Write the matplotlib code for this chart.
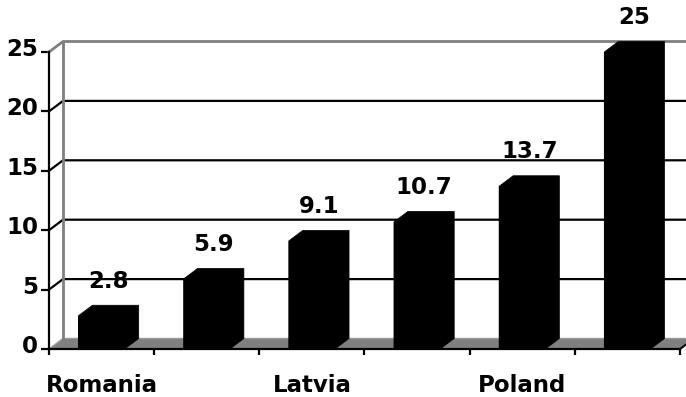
import matplotlib
matplotlib.use("Agg")
import matplotlib.pyplot as plt
import numpy as np
from matplotlib.patches import Polygon
from matplotlib.transforms import IdentityTransform, ScaledTranslation

# Chart data
categories = ["Romania", "", "Latvia", "", "Poland", ""]
values = [2.8, 5.9, 9.1, 10.7, 13.7, 25]
y_ticks = [0, 5, 10, 15, 20, 25]

# Pseudo-3D settings (receding offset in pixels)
DEPTH = (14.0, 10.5)
BAR_WIDTH = 0.44
WALL_GRAY = "#808080"
FONT = dict(fontsize=16.5, fontweight="bold", color="black")

fig = plt.figure(figsize=(6.86, 3.97), dpi=100)
ax = fig.add_axes([49 / 686, 48 / 397, 631 / 686, 297 / 397])
ax.set_xlim(-0.5, len(values) - 0.5)
ax.set_ylim(y_ticks[0], y_ticks[-1])

for side in ("top", "right"):
    ax.spines[side].set_visible(False)
for side in ("left", "bottom"):
    ax.spines[side].set_linewidth(1.6)
    ax.spines[side].set_zorder(6)

px = IdentityTransform()


def pt(x, y, back=False):
    """Display position of a data point, optionally pushed onto the back plane."""
    X, Y = ax.transData.transform((x, y))
    if back:
        X += DEPTH[0]
        Y += DEPTH[1]
    return (X, Y)


x_lo, x_hi = ax.get_xlim()
y_top = y_ticks[-1]

# Floor
floor = Polygon([pt(x_lo, 0), pt(x_hi, 0), pt(x_hi, 0, True), pt(x_lo, 0, True)],
                closed=True, transform=px, facecolor=WALL_GRAY,
                edgecolor="#9a9a9a", linewidth=1.0, zorder=1, clip_on=False)
ax.add_patch(floor)
ax.plot(*zip(pt(x_hi, 0), pt(x_hi, 0, True)), transform=px, color="black",
        lw=1.4, zorder=2, clip_on=False)

# Gridlines running across the side wall and along the back wall
for yv in y_ticks[1:-1]:
    pts = [pt(x_lo, yv), pt(x_lo, yv, True), pt(x_hi, yv, True)]
    ax.plot(*zip(*pts), transform=px, color="black", lw=1.6, zorder=2,
            clip_on=False)

# Back wall outline
pts = [pt(x_lo, y_top), pt(x_lo, y_top, True), pt(x_hi, y_top, True)]
ax.plot(*zip(*pts), transform=px, color=WALL_GRAY, lw=2.0, zorder=2,
        clip_on=False)
ax.plot(*zip(pt(x_lo, 0, True), pt(x_lo, y_top, True)), transform=px,
        color=WALL_GRAY, lw=2.0, zorder=2, clip_on=False)

# Bars: front faces plus top/side faces
xs = np.arange(len(values))
ax.bar(xs, values, width=BAR_WIDTH, color="black", zorder=4)
for x, v in zip(xs, values):
    x0, x1 = x - BAR_WIDTH / 2, x + BAR_WIDTH / 2
    body = Polygon([pt(x0, 0), pt(x0, v), pt(x0, v, True), pt(x1, v, True),
                    pt(x1, 0, True), pt(x1, 0)],
                   closed=True, transform=px, facecolor="black",
                   edgecolor="black", linewidth=0.5, zorder=4, clip_on=False)
    ax.add_patch(body)
    ax.annotate(f"{v:g}", xy=(x, v), xytext=(5, 25), textcoords="offset points",
                ha="center", va="center", zorder=7, **FONT)

# Axes ticks and labels
ax.set_xticks(np.arange(x_lo, x_hi + 0.01, 1.0))
ax.set_xticklabels([])
ax.set_xticks(xs, minor=True)
ax.set_xticklabels(categories, minor=True, **FONT)
ax.tick_params(axis="x", which="major", direction="out", length=4.3,
               width=1.6, color="black")
ax.tick_params(axis="x", which="minor", length=0, pad=18)

ax.set_yticks(y_ticks)
ax.set_yticklabels([str(t) for t in y_ticks], **FONT)
ax.tick_params(axis="y", direction="out", length=5.8, width=1.6,
               color="black", pad=2.2)
shift = ScaledTranslation(0, 5 / 100, fig.dpi_scale_trans)
for lab in ax.get_yticklabels():
    lab.set_transform(lab.get_transform() + shift)

fig.savefig("out.png", dpi=100)
